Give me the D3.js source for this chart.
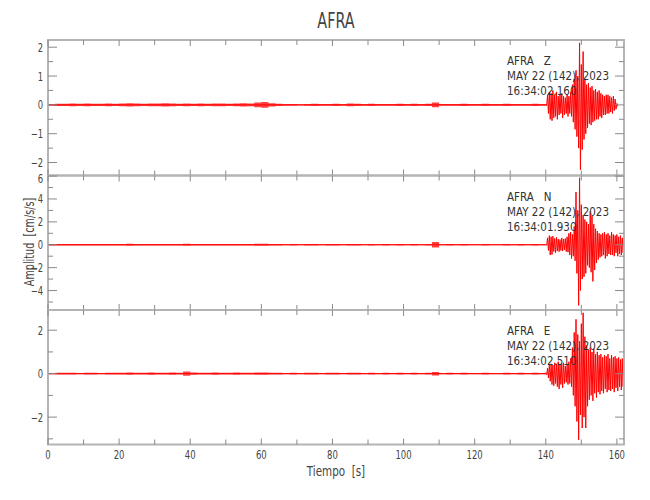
<!DOCTYPE html>
<html><head><meta charset="utf-8">
<script src="https://cdn.jsdelivr.net/npm/d3@7"></script>
<style>
body{margin:0;background:#fff;}
text{font-family:"DejaVu Sans","Liberation Sans",sans-serif;fill:#444;}
</style></head>
<body><svg id="c" width="650" height="500"></svg>
<script>
// ---- data ----
const stationName = "AFRA";
const channels = ["Z", "N", "E"];
const startTimes = ["16:34:02.160", "16:34:01.930", "16:34:02.510"];
const dateLabel = "MAY 22 (142), 2023";
const xTicks = [0, 20, 40, 60, 80, 100, 120, 140, 160];
const yTicksZ = [-2, -1, 0, 1, 2];
const yTicksN = [-4, -2, 0, 2, 4, 6];
const yTicksE = [-2, 0, 2];

// noise amplitude, 2 s bins from 0 to 138 s
const noiseZ = [0.03,0.04,0.04,0.05,0.04,0.05,0.04,0.04,0.05,0.04,
 0.05,0.06,0.05,0.04,0.05,0.05,0.06,0.05,0.04,0.05,
 0.04,0.05,0.04,0.05,0.05,0.04,0.05,0.06,0.05,0.08,
 0.10,0.06,0.04,0.03,0.03,0.02,0.03,0.04,0.03,0.03,
 0.04,0.03,0.05,0.04,0.03,0.04,0.03,0.03,0.03,0.04,
 0.03,0.04,0.03,0.04,0.08,0.03,0.03,0.03,0.04,0.03,
 0.03,0.04,0.03,0.03,0.04,0.03,0.03,0.03,0.04,0.03];
const noiseN = [0.06,0.07,0.06,0.07,0.06,0.07,0.06,0.06,0.07,0.06,
 0.07,0.08,0.07,0.06,0.07,0.06,0.07,0.06,0.06,0.08,
 0.06,0.07,0.06,0.07,0.06,0.07,0.06,0.07,0.06,0.08,
 0.09,0.07,0.06,0.05,0.06,0.05,0.06,0.06,0.05,0.06,
 0.06,0.05,0.06,0.06,0.05,0.06,0.05,0.06,0.05,0.06,
 0.05,0.06,0.05,0.06,0.25,0.05,0.06,0.05,0.06,0.05,
 0.05,0.06,0.05,0.05,0.06,0.05,0.06,0.05,0.06,0.05];
const noiseE = [0.03,0.04,0.04,0.04,0.03,0.04,0.04,0.03,0.04,0.04,
 0.04,0.05,0.04,0.04,0.05,0.04,0.04,0.05,0.04,0.10,
 0.05,0.04,0.04,0.05,0.04,0.04,0.05,0.04,0.04,0.05,
 0.05,0.04,0.04,0.03,0.04,0.03,0.04,0.04,0.03,0.04,
 0.04,0.03,0.04,0.04,0.03,0.04,0.03,0.04,0.03,0.04,
 0.03,0.04,0.03,0.04,0.08,0.03,0.04,0.03,0.04,0.03,
 0.03,0.04,0.03,0.03,0.04,0.03,0.04,0.03,0.04,0.03];

// strong motion envelope, 0.5 s bins from 140 s
const zMax = [0.03,0.35,0.45,0.4,0.5,0.35,0.45,0.3,0.35,0.4,0.3,0.25,0.35,0.3,0.45,0.7,0.9,1.2,1.0,2.15,1.4,1.85,0.9,0.7,0.75,0.6,0.65,0.5,0.55,0.45,0.5,0.4,0.35,0.3,0.35,0.35,0.3,0.25,0.3,0.2,0.05];
const zMin = [-0.03,-0.3,-0.5,-0.55,-0.45,-0.4,-0.5,-0.35,-0.3,-0.45,-0.35,-0.3,-0.4,-0.3,-0.4,-0.6,-0.85,-1.1,-1.5,-2.25,-1.55,-1.2,-1.0,-0.8,-0.65,-0.7,-0.6,-0.55,-0.5,-0.5,-0.4,-0.45,-0.35,-0.35,-0.3,-0.3,-0.25,-0.3,-0.2,-0.15,-0.05];
const nMax = [0.05,0.6,0.8,0.7,0.75,0.55,0.65,0.5,0.45,0.6,0.5,0.55,0.7,1.0,1.1,0.9,1.6,4.6,3.0,5.85,3.5,2.6,2.2,2.0,1.8,2.9,2.5,1.8,1.4,1.2,1.0,0.9,1.0,1.1,0.9,1.0,0.8,1.1,0.9,0.8,0.9,0.7,0.8,0.6,0.5];
const nMin = [-0.05,-0.5,-0.9,-0.85,-0.6,-0.7,-0.55,-0.6,-0.5,-0.55,-0.45,-0.6,-0.65,-0.9,-1.2,-1.0,-1.4,-2.5,-5.3,-4.0,-3.0,-2.8,-2.5,-1.8,-2.0,-2.4,-3.2,-2.2,-1.6,-1.3,-1.1,-1.0,-0.9,-1.2,-1.0,-0.8,-0.9,-0.9,-1.0,-0.7,-1.0,-0.8,-0.9,-0.7,-0.6];
const eMax = [0.05,0.25,0.4,0.45,0.4,0.5,0.45,0.55,0.4,0.45,0.5,0.35,0.45,0.55,0.7,1.2,1.9,2.5,1.8,1.5,2.3,2.8,1.7,1.3,1.1,1.2,1.0,1.15,0.9,1.0,0.85,0.9,0.75,0.85,0.8,0.9,0.7,0.85,0.75,0.8,0.7,0.75,0.65,0.7,0.6];
const eMin = [-0.05,-0.2,-0.35,-0.5,-0.55,-0.45,-0.6,-0.7,-0.5,-0.65,-0.45,-0.4,-0.5,-0.45,-0.6,-1.0,-1.5,-2.2,-3.05,-1.9,-2.5,-2.0,-2.5,-1.5,-1.2,-1.0,-1.25,-0.9,-1.1,-0.85,-0.95,-0.8,-0.9,-0.7,-0.85,-0.75,-0.8,-0.7,-0.85,-0.65,-0.8,-0.6,-0.75,-0.6,-0.5];

const noiseStep = 2, strongStart = 140, strongStep = 0.5;

// ---- layout ----
const svg = d3.select("#c");
const L = 48, R = 624;
const x = d3.scaleLinear().domain([0, 162]).range([L, R]);
const panels = [
  {top: 40, bottom: 175.5, dom: [-2.45, 2.25], major: yTicksZ, minorStep: 0.5, noise: noiseZ, mx: zMax, mn: zMin},
  {top: 175.5, bottom: 310, dom: [-5.7, 6.05], major: yTicksN, minorStep: 1, noise: noiseN, mx: nMax, mn: nMin},
  {top: 310, bottom: 444.5, dom: [-3.26, 2.93], major: yTicksE, minorStep: 1, noise: noiseE, mx: eMax, mn: eMin}
];

const frameCol = "#b4b4b4", tickCol = "#8a8a8a";
const fmt = v => (v < 0 ? "\u2212" + Math.abs(v) : String(v));

// condensed text helper
function addText(parent, tx, ty, str, size, anchor, sx, rot) {
  const t = parent.append("text")
    .attr("transform", `translate(${tx},${ty})` + (rot ? ` rotate(${rot})` : "") + ` scale(${sx},1)`)
    .attr("text-anchor", anchor).attr("font-size", size)
    .style("white-space", "pre").text(str);
  return t;
}

panels.forEach((p, i) => {
  const y = d3.scaleLinear().domain(p.dom).range([p.bottom, p.top]);
  const g = svg.append("g");
  const clipId = "clip" + i;
  svg.append("clipPath").attr("id", clipId).append("rect")
    .attr("x", L).attr("y", p.top).attr("width", R - L).attr("height", p.bottom - p.top);

  // pre-event noise as a band
  const noisePts = p.noise.map((a, k) => [k * noiseStep, a]);
  noisePts.push([strongStart, p.noise[p.noise.length - 1]]);
  const area = d3.area().x(d => x(d[0])).y0(d => y(-d[1])).y1(d => y(d[1])).curve(d3.curveStepAfter);
  g.append("path").attr("d", area(noisePts)).attr("fill", "#ff0000").attr("fill-opacity", 0.75)
    .attr("clip-path", `url(#${clipId})`);
  g.append("line").attr("x1", x(0)).attr("x2", x(strongStart)).attr("y1", y(0)).attr("y2", y(0))
    .attr("stroke", "#ff0000").attr("stroke-width", 1);

  // strong motion trace
  const pts = [];
  p.mx.forEach((a, k) => {
    const t = strongStart + k * strongStep;
    pts.push([t, a]); pts.push([t + strongStep / 2, p.mn[k]]);
  });
  const line = d3.line().x(d => x(d[0])).y(d => y(d[1]));
  g.append("path").attr("d", line(pts)).attr("fill", "none")
    .attr("stroke", "#ff0000").attr("stroke-width", 1)
    .attr("clip-path", `url(#${clipId})`);

  // frame
  g.append("rect").attr("x", L).attr("y", p.top).attr("width", R - L).attr("height", p.bottom - p.top)
    .attr("fill", "none").attr("stroke", frameCol).attr("stroke-width", 2);

  // y ticks
  const minors = d3.range(Math.ceil(p.dom[0] / p.minorStep) * p.minorStep, p.dom[1] + 1e-9, p.minorStep)
    .filter(v => !p.major.some(m => Math.abs(m - v) < 1e-9));
  p.major.forEach(v => {
    const yy = y(v);
    g.append("line").attr("x1", L).attr("x2", L + 9).attr("y1", yy).attr("y2", yy).attr("stroke", tickCol).attr("stroke-width", 1);
    g.append("line").attr("x1", R).attr("x2", R - 9).attr("y1", yy).attr("y2", yy).attr("stroke", tickCol).attr("stroke-width", 1);
    const nudge = (yy - p.top < 4) ? 2 : 0;   // label sitting on the panel's top edge
    addText(g, L - 5, yy + 4.5 + nudge, fmt(v), 12, "end", 0.7);
  });
  minors.forEach(v => {
    const yy = y(v);
    g.append("line").attr("x1", L).attr("x2", L + 5).attr("y1", yy).attr("y2", yy).attr("stroke", tickCol).attr("stroke-width", 1);
    g.append("line").attr("x1", R).attr("x2", R - 5).attr("y1", yy).attr("y2", yy).attr("stroke", tickCol).attr("stroke-width", 1);
  });
  // x ticks on top and bottom of each panel
  d3.range(0, 161, 10).forEach(v => {
    const xx = x(v), len = (v % 20 === 0) ? 6 : 5;
    g.append("line").attr("x1", xx).attr("x2", xx).attr("y1", p.top).attr("y2", p.top + len).attr("stroke", tickCol);
    g.append("line").attr("x1", xx).attr("x2", xx).attr("y1", p.bottom).attr("y2", p.bottom - len).attr("stroke", tickCol);
  });

  // annotation
  addText(g, 507, p.top + 25, stationName + "   " + channels[i], 11.5, "start", 0.9).style("fill", "#333");
  addText(g, 507, p.top + 40, dateLabel, 11.5, "start", 0.9).style("fill", "#333");
  addText(g, 507, p.top + 55, startTimes[i], 11.5, "start", 0.9).style("fill", "#333");
});

// x tick labels
xTicks.forEach(v => {
  addText(svg, x(v), 459, String(v), 12.5, "middle", 0.68);
});

// titles
addText(svg, (L + R) / 2, 28, stationName, 20.5, "middle", 0.7);
addText(svg, (L + R) / 2, 476, "Tiempo  [s]", 14, "middle", 0.74);
addText(svg, 34, 242, "Amplitud  [cm/s/s]", 14, "middle", 0.69, -90);
</script></body></html>
